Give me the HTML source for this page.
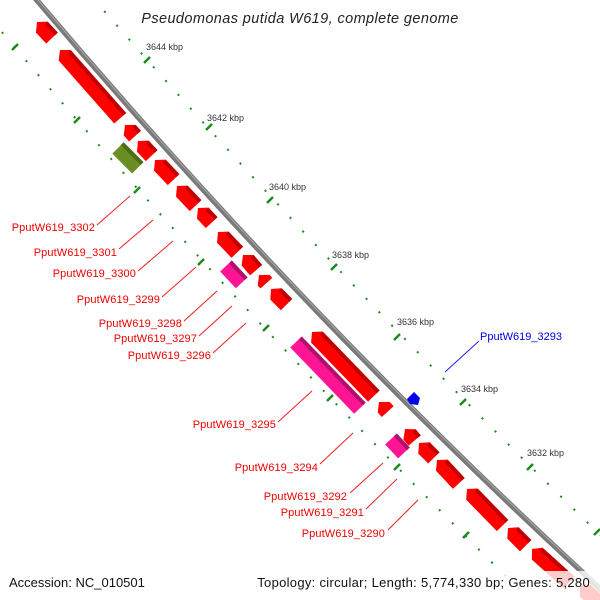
<!DOCTYPE html>
<html><head><meta charset="utf-8"><style>
html,body{margin:0;padding:0;background:#fff;}
svg{display:block;font-family:"Liberation Sans",sans-serif;}
.k{font-size:9px;fill:#333;}
.l{font-size:11px;fill:#f00000;text-anchor:end;letter-spacing:0.1px;}
.ln{stroke:#f02020;stroke-width:1;}
</style></head><body>
<svg width="600" height="600" viewBox="0 0 600 600" xmlns="http://www.w3.org/2000/svg">
<!-- dotted tick lines -->
<path d="M92,-3 Q355,299 620,554" fill="none" stroke="#1a8a1a" stroke-width="2" stroke-dasharray="2 16.5"/>
<path d="M-10,18 Q240,316 530,600" fill="none" stroke="#1a8a1a" stroke-width="2" stroke-dasharray="2 16.5"/>
<g stroke="#1a8a1a" stroke-width="2.5">
<line x1="144" y1="63" x2="150" y2="57"/>
<line x1="206" y1="130" x2="212" y2="124"/>
<line x1="267" y1="203" x2="273" y2="197"/>
<line x1="331" y1="270" x2="337" y2="264"/>
<line x1="394" y1="340" x2="400" y2="334"/>
<line x1="460" y1="405" x2="466" y2="399"/>
<line x1="527" y1="470" x2="533" y2="464"/>
<line x1="594" y1="535" x2="600" y2="529"/>
<line x1="12" y1="50" x2="18" y2="44"/>
<line x1="74" y1="123" x2="80" y2="117"/>
<line x1="134" y1="193" x2="140" y2="187"/>
<line x1="198" y1="265" x2="204" y2="259"/>
<line x1="263" y1="331" x2="269" y2="325"/>
<line x1="327" y1="401" x2="333" y2="395"/>
<line x1="394" y1="470" x2="400" y2="464"/>
<line x1="463" y1="538" x2="469" y2="532"/>
</g>
<!-- backbone -->
<path d="M35,-2 Q296,307 580,570 L615,603" fill="none" stroke="#7a7a7a" stroke-width="5.5"/>
<path d="M35.5,-3 Q296.5,306 580.5,569 L615.5,602" fill="none" stroke="#a8a8a8" stroke-width="1"/>

<g>
<g transform="translate(37,22) rotate(47)"><polygon points="0,0 7,-8 22,-8 22,8 7,8" fill="#f00"/><polygon points="7,-8 22,-8 22,-4 7,-4" fill="#c00000"/></g>
<g transform="translate(60,50) rotate(48.6)"><polygon points="0,0 7,-8 91,-8 91,8 7,8" fill="#f00"/><polygon points="7,-8 91,-8 91,-4 7,-4" fill="#c00000"/></g>
<g transform="translate(125,125) rotate(48)"><polygon points="0,0 7,-8 15,-8 15,8 7,8" fill="#f00"/><polygon points="7,-8 15,-8 15,-4 7,-4" fill="#c00000"/></g>
<g transform="translate(138,141) rotate(47)"><polygon points="0,0 7,-8 20,-8 20,8 7,8" fill="#f00"/><polygon points="7,-8 20,-8 20,-4 7,-4" fill="#c00000"/></g>
<g transform="translate(155,160) rotate(46.5)"><polygon points="0,0 7,-8 27,-8 27,8 7,8" fill="#f00"/><polygon points="7,-8 27,-8 27,-4 7,-4" fill="#c00000"/></g>
<g transform="translate(177,186) rotate(46.5)"><polygon points="0,0 7,-8 27,-8 27,8 7,8" fill="#f00"/><polygon points="7,-8 27,-8 27,-4 7,-4" fill="#c00000"/></g>
<g transform="translate(198,208) rotate(47)"><polygon points="0,0 7,-8 20,-8 20,8 7,8" fill="#f00"/><polygon points="7,-8 20,-8 20,-4 7,-4" fill="#c00000"/></g>
<g transform="translate(218,232) rotate(46.5)"><polygon points="0,0 7,-8 28,-8 28,8 7,8" fill="#f00"/><polygon points="7,-8 28,-8 28,-4 7,-4" fill="#c00000"/></g>
<g transform="translate(243,255) rotate(49)"><polygon points="0,0 7,-8 20,-8 20,8 7,8" fill="#f00"/><polygon points="7,-8 20,-8 20,-4 7,-4" fill="#c00000"/></g>
<g transform="translate(259,275) rotate(48)"><polygon points="0,0 7,-8 11,-8 11,8 7,8" fill="#f00"/></g>
<g transform="translate(271,289) rotate(45)"><polygon points="0,0 7,-8 22,-8 22,8 7,8" fill="#f00"/><polygon points="7,-8 22,-8 22,-4 7,-4" fill="#c00000"/></g>
<g transform="translate(312,332) rotate(46)"><polygon points="0,0 7,-8 89,-8 89,8 7,8" fill="#f00"/><polygon points="7,-8 89,-8 89,-4 7,-4" fill="#c00000"/></g>
<g transform="translate(379,402) rotate(48)"><polygon points="0,0 7,-8 13,-8 13,8 7,8" fill="#f00"/></g>
<g transform="translate(405,429) rotate(50)"><polygon points="0,0 7,-8 15,-8 15,8 7,8" fill="#f00"/><polygon points="7,-8 15,-8 15,-4 7,-4" fill="#c00000"/></g>
<g transform="translate(419,443) rotate(45)"><polygon points="0,0 7,-8 21,-8 21,8 7,8" fill="#f00"/><polygon points="7,-8 21,-8 21,-4 7,-4" fill="#c00000"/></g>
<g transform="translate(437,460) rotate(47)"><polygon points="0,0 7,-8 32,-8 32,8 7,8" fill="#f00"/><polygon points="7,-8 32,-8 32,-4 7,-4" fill="#c00000"/></g>
<g transform="translate(467,489) rotate(45.8)"><polygon points="0,0 7,-8 51,-8 51,8 7,8" fill="#f00"/><polygon points="7,-8 51,-8 51,-4 7,-4" fill="#c00000"/></g>
<g transform="translate(508,528) rotate(45)"><polygon points="0,0 7,-8 25,-8 25,8 7,8" fill="#f00"/><polygon points="7,-8 25,-8 25,-4 7,-4" fill="#c00000"/></g>
<g transform="translate(532,549) rotate(42)"><polygon points="0,0 7,-8 50,-8 50,8 7,8" fill="#f00"/><polygon points="7,-8 50,-8 50,-4 7,-4" fill="#c00000"/></g>
<g transform="translate(580,586) rotate(42)"><polygon points="0,0 7,-8 40,-8 40,8 7,8" fill="#f00"/></g>
<g transform="translate(118,148) rotate(45)"><polygon points="0,-8 28,-8 28,8 0,8" fill="#6b8e23"/><polygon points="0,-8 28,-8 28,-4 0,-4" fill="#4e6b18"/></g>
<g transform="translate(226,266) rotate(47)"><polygon points="0,-8 23,-8 23,8 0,8" fill="#ff1493"/><polygon points="0,-8 23,-8 23,-4 0,-4" fill="#b0106a"/></g>
<g transform="translate(296,342) rotate(46)"><polygon points="0,-8 92,-8 92,8 0,8" fill="#ff1493"/><polygon points="0,-8 92,-8 92,-4 0,-4" fill="#b0106a"/></g>
<g transform="translate(391,439) rotate(47)"><polygon points="0,-8 19,-8 19,8 0,8" fill="#ff1493"/><polygon points="0,-8 19,-8 19,-4 0,-4" fill="#b0106a"/></g>
<polygon points="407,399 414,392 420,398 418,405 410,404" fill="#0000ee"/>
</g>

<text class="k" x="146" y="50">3644 kbp</text>
<text class="k" x="207" y="121">3642 kbp</text>
<text class="k" x="269" y="190">3640 kbp</text>
<text class="k" x="332" y="258">3638 kbp</text>
<text class="k" x="397" y="325">3636 kbp</text>
<text class="k" x="461" y="392">3634 kbp</text>
<text class="k" x="527" y="456">3632 kbp</text>

<g>
<line class="ln" x1="97" y1="225" x2="130" y2="196"/><text class="l" x="95" y="231">PputW619_3302</text>
<line class="ln" x1="119" y1="249" x2="153" y2="220"/><text class="l" x="117" y="256">PputW619_3301</text>
<line class="ln" x1="138" y1="271" x2="173" y2="241"/><text class="l" x="136" y="277">PputW619_3300</text>
<line class="ln" x1="162" y1="297" x2="196" y2="267"/><text class="l" x="160" y="303">PputW619_3299</text>
<line class="ln" x1="184" y1="321" x2="217" y2="291"/><text class="l" x="182" y="327">PputW619_3298</text>
<line class="ln" x1="199" y1="336" x2="232" y2="306"/><text class="l" x="197" y="342">PputW619_3297</text>
<line class="ln" x1="213" y1="353" x2="246" y2="323"/><text class="l" x="211" y="359">PputW619_3296</text>
<line class="ln" x1="278" y1="422" x2="312" y2="391"/><text class="l" x="276" y="428">PputW619_3295</text>
<line class="ln" x1="320" y1="464" x2="353" y2="433"/><text class="l" x="318" y="471">PputW619_3294</text>
<line class="ln" x1="350" y1="493" x2="383" y2="463"/><text class="l" x="347" y="500">PputW619_3292</text>
<line class="ln" x1="366" y1="509" x2="397" y2="479"/><text class="l" x="364" y="516">PputW619_3291</text>
<line class="ln" x1="388" y1="530" x2="418" y2="500"/><text class="l" x="385" y="537">PputW619_3290</text>
<line x1="445" y1="372" x2="479" y2="341" stroke="#2020f0" stroke-width="1"/><text x="480" y="340" style="font-size:11px;fill:#0000ee">PputW619_3293</text>
</g>

<text x="300" y="23" text-anchor="middle" style="font-size:14.5px;font-style:italic;fill:#222;letter-spacing:0.4px">Pseudomonas putida W619, complete genome</text>

<rect x="0" y="571" width="600" height="29" fill="#fff" fill-opacity="0.8"/>
<text x="9" y="587" style="font-size:13px;fill:#111">Accession: NC_010501</text>
<text x="590" y="587" text-anchor="end" style="font-size:13px;fill:#111;letter-spacing:0.3px">Topology: circular; Length: 5,774,330 bp; Genes: 5,280</text>
</svg>
</body></html>
